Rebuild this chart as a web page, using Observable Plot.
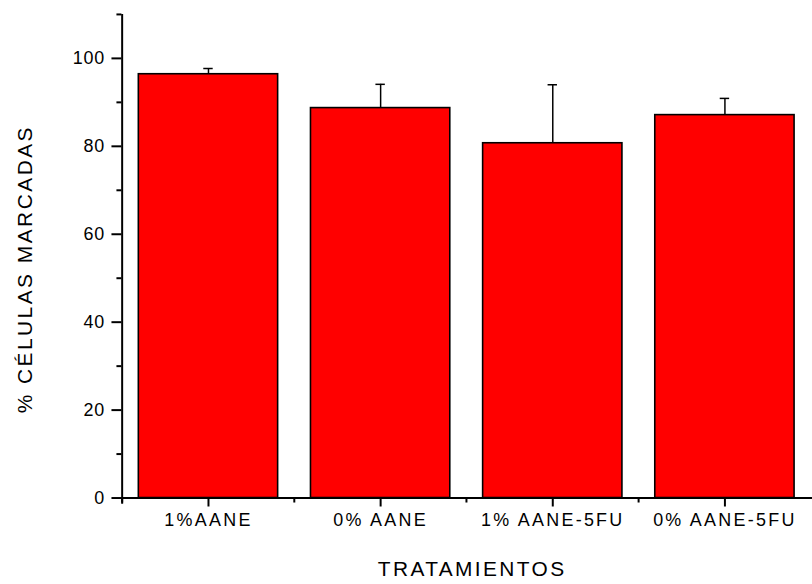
<!DOCTYPE html>
<html>
<head>
<meta charset="utf-8">
<script src="https://cdn.jsdelivr.net/npm/d3@7"></script>
<script src="https://cdn.jsdelivr.net/npm/@observablehq/plot@0.6"></script>
<style>
  html, body { margin: 0; padding: 0; background: #fff; overflow: hidden; }
  .chart [aria-label="x-axis tick label"] text { letter-spacing: 2.3px; }
  .chart [aria-label="y-axis tick label"] text { letter-spacing: 0.8px; }
  .chart .xtitle text { letter-spacing: 2.4px; }
  .chart .ytitle text { letter-spacing: 2.5px; }
</style>
</head>
<body>
<div id="chart"></div>
<script>
const categories = ["1%AANE", "0% AANE", "1% AANE-5FU", "0% AANE-5FU"];
const values = [96.4, 88.7, 80.7, 87.1];
const errors = [1.3, 5.4, 13.3, 3.8];
const yTicks = [0, 20, 40, 60, 80, 100];
const yMinorTicks = [10, 30, 50, 70, 90, 110];
const xTitle = "TRATAMIENTOS";
const yTitle = "% CÉLULAS MARCADAS";

const data = categories.map((c, i) => ({cat: c, value: values[i], err: errors[i]}));

const W = 816, H = 584, ML = 122, MR = 0, MT = 14, MB = 84;
const padInner = 0.19;
const step = (W - ML - MR) / categories.length;
const bw = step * (1 - padInner);
const capHalf = 5;

const plot = Plot.plot({
  width: W,
  height: H,
  marginLeft: ML,
  marginRight: MR,
  marginTop: MT,
  marginBottom: MB,
  className: "chart",
  style: {fontFamily: "'Liberation Sans', Arial, sans-serif", fontSize: "18px", color: "#000", background: "#fff", overflow: "visible"},
  x: {domain: categories, paddingInner: padInner, paddingOuter: padInner / 2, label: null},
  y: {domain: [0, 110], label: null},
  marks: [
    Plot.barY(data, {x: "cat", y: "value", fill: "#ff0000", stroke: "#000", strokeWidth: 1.6}),
    Plot.ruleX(data, {x: "cat", y1: "value", y2: d => d.value + d.err, stroke: "#000", strokeWidth: 1.5}),
    Plot.tickY(data, {x: "cat", y: d => d.value + d.err, stroke: "#000", strokeWidth: 1.5, insetLeft: bw / 2 - capHalf, insetRight: bw / 2 - capHalf}),
    Plot.ruleY([0], {stroke: "#000", strokeWidth: 2}),
    Plot.ruleX([categories[0]], {y1: -1.4, y2: 110, dx: -step / 2, stroke: "#000", strokeWidth: 2}),
    Plot.axisY(yTicks, {tickSize: 10, tickPadding: 7, fontSize: 18, label: null, strokeWidth: 2}),
    Plot.axisY(yMinorTicks, {tickSize: 5, tickFormat: () => "", label: null, strokeWidth: 2}),
    Plot.axisX({tickSize: 9, tickPadding: 6, fontSize: 18, label: null, strokeWidth: 2}),
    Plot.axisX({tickSize: 5, tickFormat: () => "", label: null, dx: -step / 2, strokeWidth: 2}),
    Plot.text([xTitle], {frameAnchor: "bottom", dx: 5, dy: 72, fontSize: 21, lineAnchor: "middle", textAnchor: "middle", className: "xtitle"}),
    Plot.text([yTitle], {frameAnchor: "left", dx: -97, dy: 13, rotate: -90, fontSize: 21, lineAnchor: "middle", textAnchor: "middle", className: "ytitle"})
  ]
});
document.getElementById("chart").appendChild(plot);
</script>
</body>
</html>
